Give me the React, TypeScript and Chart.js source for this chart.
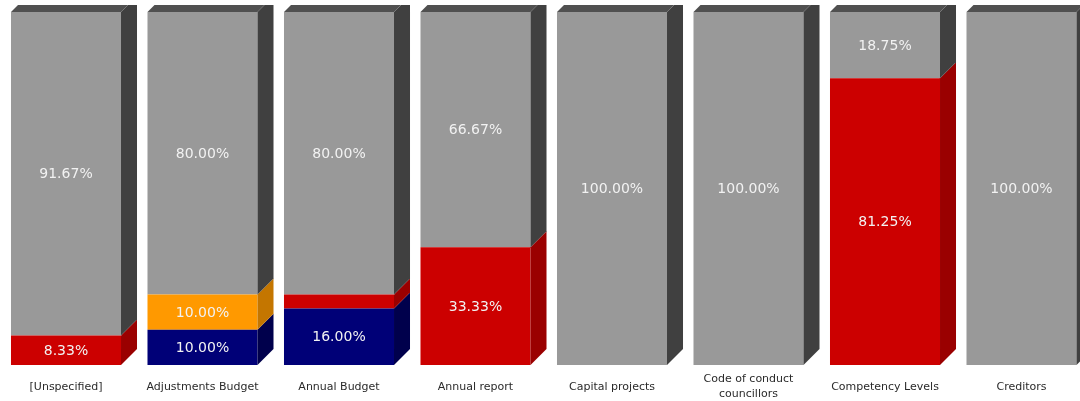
import React, { useEffect, useRef } from "react";
import { Chart, registerables } from "chart.js";

Chart.register(...registerables);

const categories: (string | string[])[] = [
  "[Unspecified]",
  "Adjustments Budget",
  "Annual Budget",
  "Annual report",
  "Capital projects",
  ["Code of conduct", "councillors"],
  "Competency Levels",
  "Creditors",
];

const navyValues = [0, 10, 16, 0, 0, 0, 0, 0];
const redValues = [8.33, 0, 4, 33.33, 0, 0, 81.25, 0];
const orangeValues = [0, 10, 0, 0, 0, 0, 0, 0];
const greyValues = [91.67, 80, 80, 66.67, 100, 100, 18.75, 100];

const seriesNames = ["Series A", "Series B", "Series C", "Series D"];
const frontColors = ["#000077", "#CC0000", "#FF9900", "#999999"];
const sideColors = ["#00004C", "#9A0000", "#C47600", "#404040"];
const topColors = ["#000055", "#A80000", "#D88200", "#505050"];

const DEPTH = 16;
const CLIP_TOP = 5;

const bar3d = {
  id: "bar3d",
  afterDatasetsDraw(chart: any) {
    const ctx = chart.ctx as CanvasRenderingContext2D;
    ctx.save();
    ctx.beginPath();
    ctx.rect(0, CLIP_TOP, chart.width, chart.height);
    ctx.clip();
    const n = chart.data.datasets.length;
    for (let i = 0; i < n; i++) {
      const meta = chart.getDatasetMeta(i);
      const data = chart.data.datasets[i].data as number[];
      meta.data.forEach((el: any, j: number) => {
        const v = data[j];
        if (!v) return;
        const w = el.width;
        const left = el.x - w / 2;
        const right = el.x + w / 2;
        const top = Math.min(el.y, el.base);
        const bottom = Math.max(el.y, el.base);
        ctx.fillStyle = sideColors[i];
        ctx.beginPath();
        ctx.moveTo(right, top);
        ctx.lineTo(right + DEPTH, top - DEPTH);
        ctx.lineTo(right + DEPTH, bottom - DEPTH);
        ctx.lineTo(right, bottom);
        ctx.closePath();
        ctx.fill();
        let isTop = true;
        for (let k = i + 1; k < n; k++) {
          if ((chart.data.datasets[k].data as number[])[j]) isTop = false;
        }
        if (isTop) {
          ctx.fillStyle = topColors[i];
          ctx.beginPath();
          ctx.moveTo(left, top);
          ctx.lineTo(left + DEPTH, top - DEPTH);
          ctx.lineTo(right + DEPTH, top - DEPTH);
          ctx.lineTo(right, top);
          ctx.closePath();
          ctx.fill();
        }
      });
    }
    ctx.restore();

    ctx.save();
    ctx.fillStyle = "#f2f2f2";
    ctx.font = "14px 'DejaVu Sans'";
    ctx.textAlign = "center";
    ctx.textBaseline = "middle";
    for (let i = 0; i < n; i++) {
      const meta = chart.getDatasetMeta(i);
      const data = chart.data.datasets[i].data as number[];
      meta.data.forEach((el: any, j: number) => {
        const v = data[j];
        if (!v || v < 5) return;
        const cy = (el.y + el.base) / 2;
        ctx.fillText(v.toFixed(2) + "%", el.x, cy + 1);
      });
    }
    ctx.restore();
  },
};

export default function App() {
  const ref = useRef<HTMLCanvasElement | null>(null);
  useEffect(() => {
    if (!ref.current) return;
    const values = [navyValues, redValues, orangeValues, greyValues];
    const chart = new Chart(ref.current, {
      type: "bar",
      data: {
        labels: categories,
        datasets: values.map((d, i) => ({
          label: seriesNames[i],
          data: d,
          backgroundColor: frontColors[i],
          borderWidth: 0,
          barPercentage: 0.806,
          categoryPercentage: 1,
        })),
      },
      options: {
        animation: false,
        responsive: false,
        devicePixelRatio: 1,
        layout: { padding: { top: 12, left: 17.75, right: 10.25, bottom: 0 } },
        plugins: {
          legend: { display: false },
          tooltip: { enabled: false },
        },
        scales: {
          x: {
            stacked: true,
            grid: { display: false, drawTicks: false },
            border: { display: false },
            ticks: {
              color: "#2a2a2a",
              font: { family: "'DejaVu Sans'", size: 11, lineHeight: 1.4 },
              crossAlign: "center",
              padding: 14,
              maxRotation: 0,
              autoSkip: false,
            },
            afterFit: (s: any) => {
              s.height = 36;
            },
          },
          y: {
            stacked: true,
            display: false,
            min: 0,
            max: 100,
          },
        },
      },
      plugins: [bar3d],
    });
    return () => chart.destroy();
  }, []);
  return (
    <div
      style={{
        position: "absolute",
        top: 0,
        left: 0,
        width: 1080,
        height: 401,
        overflow: "hidden",
        background: "#ffffff",
      }}
    >
      <canvas
        ref={ref}
        width={1120}
        height={401}
        style={{ position: "absolute", left: -20, top: 0, width: 1120, height: 401 }}
      />
    </div>
  );
}
